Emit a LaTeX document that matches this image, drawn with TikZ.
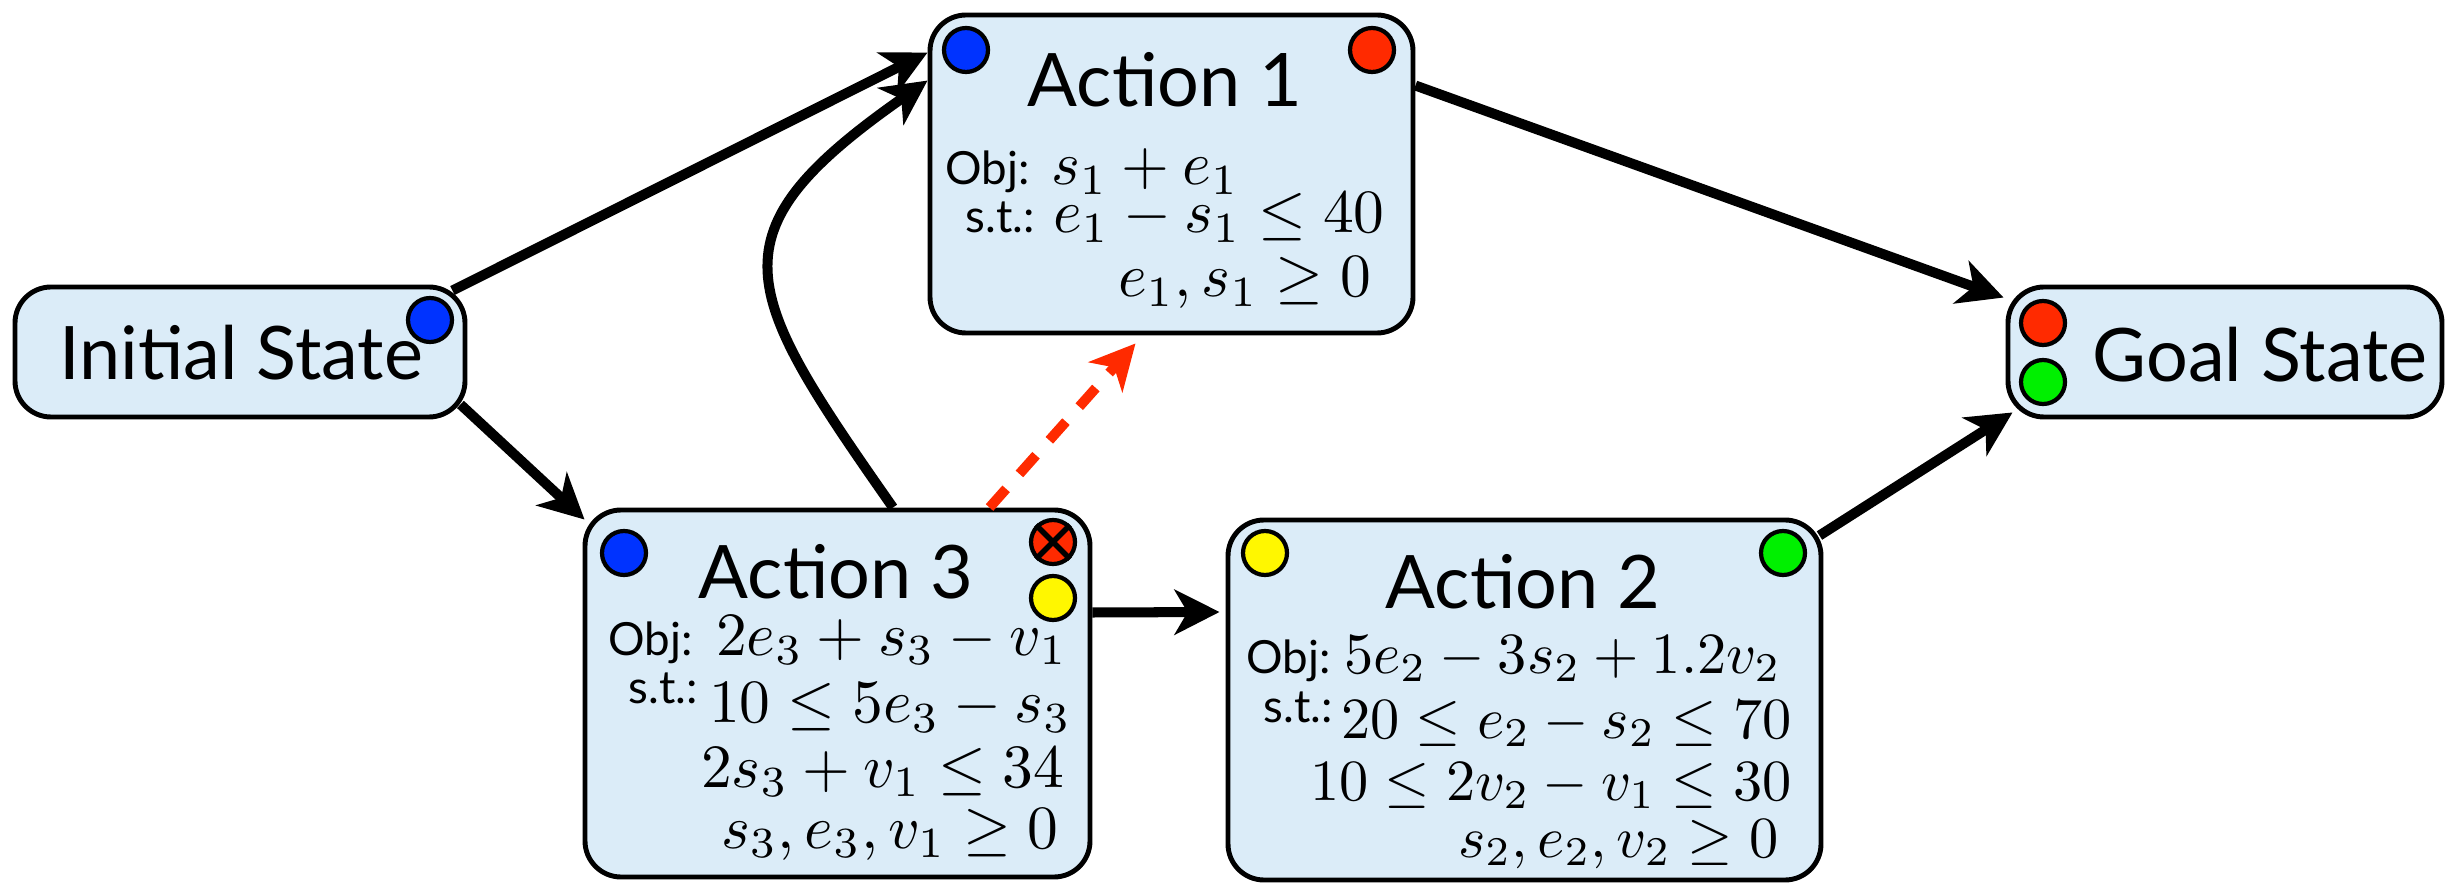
\documentclass[tikz,border=0pt]{standalone}
\usepackage[no-math]{fontspec}
\newfontfamily\gillfont{Lato}
\usetikzlibrary{arrows.meta,positioning}
\definecolor{boxblue}{RGB}{219,236,248}
\definecolor{dotblue}{RGB}{0,51,255}
\definecolor{dotred}{RGB}{255,42,0}
\definecolor{dotyellow}{RGB}{255,247,0}
\definecolor{dotgreen}{RGB}{0,240,0}

\begin{document}
\begin{tikzpicture}[
    box/.style={draw,line width=1.4pt,fill=boxblue,rounded corners=0.36cm,inner sep=0},
    dot/.style={circle,draw,line width=1.2pt,minimum size=0.44cm,inner sep=0},
    title/.style={font=\gillfont\fontsize{21}{25}\selectfont,inner sep=0,anchor=base},
    tag/.style={font=\gillfont\fontsize{13}{15}\selectfont,inner sep=0,anchor=base west},
    eq/.style={inner sep=0,anchor=base west,scale=#1,transform shape},
    eq/.default=1.75,
    arr/.style={-{Stealth[length=4.5mm,width=4.5mm,inset=1.3mm]},line width=2.85pt}]
    \useasboundingbox (0,0) rectangle (24.59,-8.84);
    % states
    \node[box,minimum width=4.50cm,minimum height=1.30cm] (init) at (2.40,-3.52) {};
    \node[box,minimum width=4.34cm,minimum height=1.30cm] (goal) at (22.25,-3.52) {};
    \node[title] (initlbl) at (2.41,-3.80) {Initial State};
    \node[title] (goallbl) at (22.60,-3.82) {Goal State};
    % actions
    \node[box,minimum width=4.83cm,minimum height=3.18cm] (act1) at (11.715,-1.74) {};
    \node[box,minimum width=5.05cm,minimum height=3.67cm] (act3) at (8.375,-6.935) {};
    \node[box,minimum width=5.93cm,minimum height=3.60cm] (act2) at (15.245,-7.00) {};
    % action 1
    \node[title] (t1) at (11.65,-1.07) {Action 1};
    \node[tag] (o1) at (9.45,-1.85) {Obj:};
    \node[eq] (f1) at (10.50,-1.85) {$s_1+e_1$};
    \node[tag] (s1) at (9.65,-2.33) {s.t.:};
    \node[eq] (c1a) at (10.52,-2.33) {$e_1-s_1\leq 40$};
    \node[eq] (c1b) at (11.17,-2.97) {$e_1,s_1\geq 0$};
    % action 3
    \node[title] (t3) at (8.36,-5.98) {Action 3};
    \node[tag] (o3) at (6.08,-6.55) {Obj:};
    \node[eq] (f3) at (7.15,-6.55) {$2e_3+s_3-v_1$};
    \node[tag] (s3) at (6.28,-7.03) {s.t.:};
    \node[eq] (c3a) at (7.08,-7.23) {$10\leq 5e_3-s_3$};
    \node[eq] (c3b) at (7.00,-7.87) {$2s_3+v_1\leq 34$};
    \node[eq] (c3c) at (7.20,-8.48) {$s_3,e_3,v_1\geq 0$};
    % action 2
    \node[title] (t2) at (15.23,-6.08) {Action 2};
    \node[tag] (o2) at (12.46,-6.73) {Obj:};
    \node[eq=1.66] (f2) at (13.43,-6.73) {$5e_2-3s_2+1.2v_2$};
    \node[tag] (s2) at (12.63,-7.23) {s.t.:};
    \node[eq=1.66] (c2a) at (13.40,-7.38) {$20\leq e_2-s_2\leq 70$};
    \node[eq=1.66] (c2b) at (13.09,-8.00) {$10\leq 2v_2-v_1\leq 30$};
    \node[eq=1.66] (c2c) at (14.57,-8.57) {$s_2,e_2,v_2\geq 0$};
    % dots
    \node[dot,fill=dotblue] (initp) at (4.30,-3.20) {};
    \node[dot,fill=dotred] (goalr) at (20.43,-3.23) {};
    \node[dot,fill=dotgreen] (goalg) at (20.43,-3.82) {};
    \node[dot,fill=dotblue] (a1in) at (9.66,-0.50) {};
    \node[dot,fill=dotred] (a1out) at (13.72,-0.50) {};
    \node[dot,fill=dotblue] (a3in) at (6.24,-5.53) {};
    \node[dot,fill=dotred] (a3del) at (10.53,-5.42) {};
    \node[dot,fill=dotyellow] (a3out) at (10.53,-5.98) {};
    \node[dot,fill=dotyellow] (a2in) at (12.65,-5.53) {};
    \node[dot,fill=dotgreen] (a2out) at (17.83,-5.53) {};
    \draw[line width=1.6pt] (a3del.45)--(a3del.225) (a3del.135)--(a3del.315);
    % arrows
    \draw[arr] ([xshift=-0.15cm,yshift=-0.06cm]init.north east) -- ([yshift=-0.40cm]act1.north west);
    \draw[arr] ([xshift=-0.07cm,yshift=0.15cm]init.south east) -- ([xshift=0.02cm,yshift=-0.12cm]act3.north west);
    \draw[arr] ([xshift=0.555cm]act3.north) to[out=125,in=215,looseness=1.6] ([yshift=-0.68cm]act1.north west);
    \draw[arr,dotred,dash pattern=on 0.25cm off 0.2cm] ([xshift=1.52cm]act3.north) -- ([xshift=-0.36cm,yshift=-0.08cm]act1.south);
    \draw[arr] ([yshift=0.81cm]act3.east) -- ([xshift=-0.06cm,yshift=0.88cm]act2.west);
    \draw[arr] ([yshift=-0.73cm]act1.north east) -- ([xshift=-0.02cm,yshift=-0.13cm]goal.north west);
    \draw[arr] ([xshift=-0.04cm,yshift=-0.18cm]act2.north east) -- ([xshift=0.07cm,yshift=0.07cm]goal.south west);
\end{tikzpicture}
\end{document}
